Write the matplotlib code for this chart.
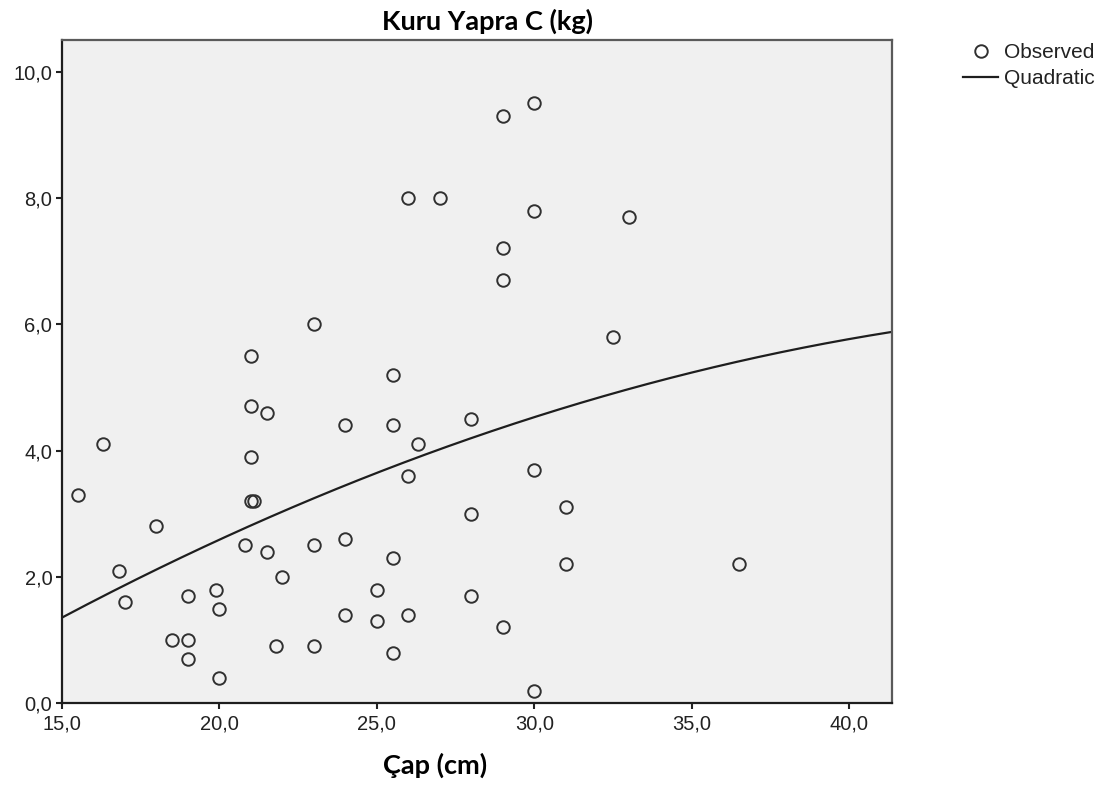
import numpy as np
import matplotlib.pyplot as plt
from matplotlib.ticker import FuncFormatter

# Çap (cm) and Kuru Yapra C (kg)
cap_cm = [15.5, 16.3, 16.8, 17.0, 18.0, 18.5, 19.0, 19.0, 19.0, 19.9,
          20.0, 20.0, 20.8, 21.0, 21.0, 21.0, 21.0, 21.1, 21.5, 21.5,
          21.8, 22.0, 23.0, 23.0, 23.0, 24.0, 24.0, 24.0, 25.0, 25.0,
          25.5, 25.5, 25.5, 25.5, 26.0, 26.0, 26.0, 26.3, 27.0, 28.0,
          28.0, 28.0, 29.0, 29.0, 29.0, 29.0, 30.0, 30.0, 30.0, 30.0,
          31.0, 31.0, 32.5, 33.0, 36.5]
kuru_yaprak_c = [3.3, 4.1, 2.1, 1.6, 2.8, 1.0, 1.0, 0.7, 1.7, 1.8,
                 1.5, 0.4, 2.5, 5.5, 4.7, 3.9, 3.2, 3.2, 4.6, 2.4,
                 0.9, 2.0, 6.0, 2.5, 0.9, 4.4, 2.6, 1.4, 1.8, 1.3,
                 5.2, 4.4, 2.3, 0.8, 8.0, 3.6, 1.4, 4.1, 8.0, 4.5,
                 3.0, 1.7, 9.3, 7.2, 6.7, 1.2, 9.5, 7.8, 3.7, 0.2,
                 3.1, 2.2, 5.8, 7.7, 2.2]

x_ticks = [15, 20, 25, 30, 35, 40]
y_ticks = [0, 2, 4, 6, 8, 10]

x = np.array(cap_cm)
y = np.array(kuru_yaprak_c)

# quadratic fit, as in the original output
coef = np.polyfit(x, y, 2)

fig = plt.figure(figsize=(11.05, 7.87), dpi=100)
ax = fig.add_axes([0.0561, 0.1064, 0.7508, 0.8428])
ax.set_facecolor('#f0f0f0')

xmin, xmax = 15, 41.35
xs = np.linspace(xmin, xmax, 300)
ax.plot(xs, np.polyval(coef, xs), color='#1e1e1e', lw=1.6, label='Quadratic', zorder=2)
ax.plot(x, y, 'o', ms=9, mfc='none', mec='#303030', mew=1.4, label='Observed', zorder=3)

ax.set_xlim(xmin, xmax)
ax.set_ylim(0, 10.5)
ax.set_xticks(x_ticks)
ax.set_yticks(y_ticks)
fmt = FuncFormatter(lambda v, p: ('%.1f' % v).replace('.', ','))
ax.xaxis.set_major_formatter(fmt)
ax.yaxis.set_major_formatter(fmt)

ax.tick_params(direction='out', length=4, width=1.5, color='#222222',
               labelsize=14.5, labelcolor='#222222', pad=3,
               labelfontfamily='Liberation Sans')
ax.tick_params(axis='x', pad=4)

for side in ['left', 'bottom']:
    ax.spines[side].set_color('#1e1e1e')
    ax.spines[side].set_linewidth(1.6)
for side in ['top', 'right']:
    ax.spines[side].set_color('#5a5a5a')
    ax.spines[side].set_linewidth(1.6)

fig.text(487 / 1105, 1 - 21 / 787, 'Kuru Yapra C (kg)', ha='center', va='center',
         fontsize=19.5, fontweight='bold', family='Lato')
fig.text(435 / 1105, 1 - 765 / 787, 'Çap (cm)', ha='center', va='center',
         fontsize=19.5, fontweight='bold', family='Lato')

h, l = ax.get_legend_handles_labels()
fig.legend(h[::-1], l[::-1], loc='upper left', bbox_to_anchor=(963 / 1105, 1 - 43 / 787),
           frameon=False, prop={'family': 'Liberation Sans', 'size': 15},
           handlelength=1.7, handletextpad=0.25, labelspacing=0.35,
           borderaxespad=0, borderpad=0, labelcolor='#222222')

fig.savefig('out.png', dpi=100)
